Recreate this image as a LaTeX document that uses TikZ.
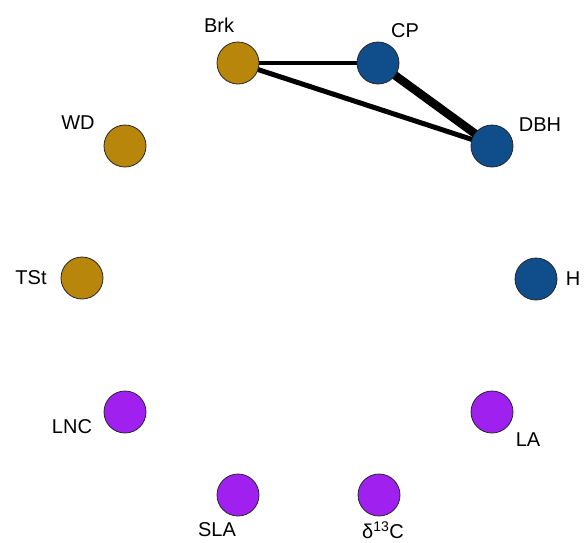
\documentclass[tikz,border=0pt]{standalone}
\usepackage{fontspec}
\setmainfont{Liberation Sans}
\usetikzlibrary{backgrounds}
\definecolor{goldc}{HTML}{B8860B}
\definecolor{bluec}{HTML}{104E8B}
\definecolor{purplec}{HTML}{A020F0}
\begin{document}
\begin{tikzpicture}[x=1pt,y=-1pt,
  vert/.style={circle,draw=black!85,line width=0.8pt,minimum size=42pt,inner sep=0pt},
  gv/.style={vert,fill=goldc},
  bv/.style={vert,fill=bluec},
  pv/.style={vert,fill=purplec},
  lbl/.style={font=\fontsize{20}{20}\selectfont,inner sep=0pt},
  edge/.style={draw=black,line cap=butt}]
\useasboundingbox (0,0) rectangle (585,542);
\node[gv] (Brk) at (238,63) {};
\node[bv] (CP) at (378,63) {};
\node[bv] (DBH) at (492,146) {};
\node[gv] (WD) at (125,146) {};
\node[gv] (TSt) at (82,278) {};
\node[bv] (H) at (536,279) {};
\node[pv] (LNC) at (125,412) {};
\node[pv] (LA) at (492,412) {};
\node[pv] (SLA) at (238,495) {};
\node[pv] (dC) at (379,495) {};
\node[lbl] (lBrk) at (219,25) {Brk};
\node[lbl] (lCP) at (405,31) {CP};
\node[lbl] (lDBH) at (540,125) {DBH};
\node[lbl] (lWD) at (78,123) {WD};
\node[lbl] (lTSt) at (31,278) {TSt};
\node[lbl] (lH) at (573,279) {H};
\node[lbl] (lLNC) at (72,427) {LNC};
\node[lbl] (lLA) at (528,440) {LA};
\node[lbl] (lSLA) at (217,530) {SLA};
\node[lbl] (ldC) at (383,530) {δ\textsuperscript{13}C};
\begin{scope}[on background layer]
\draw[edge,line width=4pt] (Brk.center) -- (CP.center);
\draw[edge,line width=5pt] (Brk.center) -- (DBH.center);
\draw[edge,line width=8.5pt] (CP.center) -- (DBH.center);
\end{scope}
\end{tikzpicture}
\end{document}
